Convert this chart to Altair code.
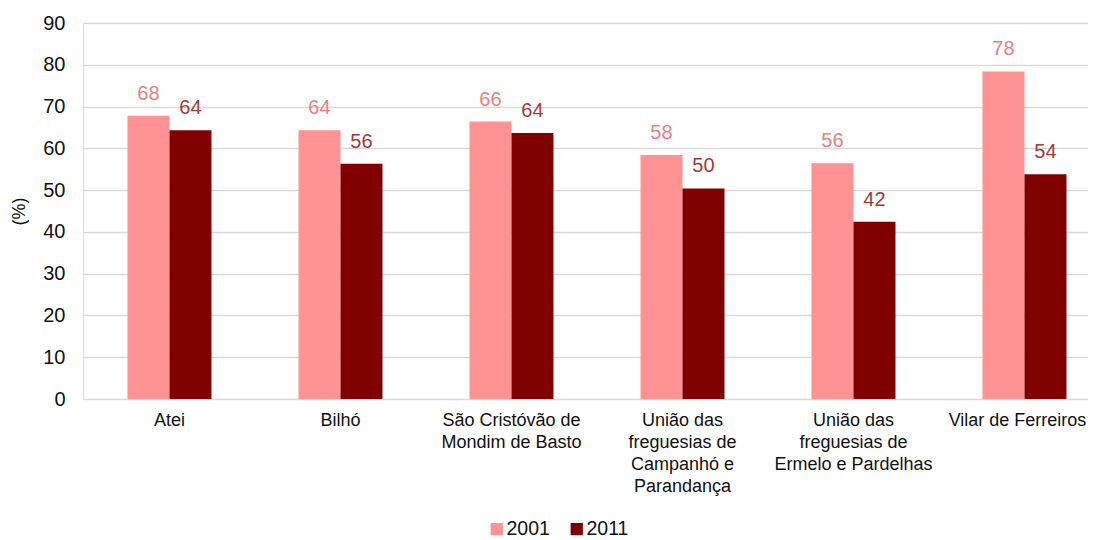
import altair as alt
import pandas as pd

categories = [
    "Atei",
    "Bilhó",
    "São Cristóvão de\nMondim de Basto",
    "União das\nfreguesias de\nCampanhó e\nParandança",
    "União das\nfreguesias de\nErmelo e Pardelhas",
    "Vilar de Ferreiros",
]
years = ["2001", "2011"]
values_2001 = [67.8, 64.3, 66.4, 58.4, 56.4, 78.4]
values_2011 = [64.3, 56.3, 63.7, 50.4, 42.4, 53.8]
y_ticks = [0, 10, 20, 30, 40, 50, 60, 70, 80, 90]

rows = []
for c, a, b in zip(categories, values_2001, values_2011):
    rows.append({"cat": c, "year": "2001", "value": a})
    rows.append({"cat": c, "year": "2011", "value": b})
df = pd.DataFrame(rows)

FONT = "Liberation Sans"

x_enc = alt.X(
    "cat:N",
    sort=categories,
    scale=alt.Scale(paddingInner=0.5088, paddingOuter=0.193, align=0.674),
    axis=alt.Axis(
        title=None,
        labelAngle=0,
        labelExpr="split(datum.value, '\\n')",
        labelFontSize=18,
        labelLineHeight=22,
        labelPadding=12,
        labelColor="#111111",
        labelFont=FONT,
        labelOffset={"expr": "datum.value == 'Vilar de Ferreiros' ? -7 : 0"},
        domain=False,
        ticks=False,
        tickSize=0,
        labelBaseline="top",
    ),
)
xoff = alt.XOffset("year:N", sort=years, scale=alt.Scale(paddingInner=0, paddingOuter=0))
y_enc = alt.Y(
    "value:Q",
    scale=alt.Scale(domain=[0, 90], nice=False),
    axis=alt.Axis(
        values=y_ticks,
        title="(%)",
        titleFontSize=18,
        titleFontWeight="normal",
        titleFont=FONT,
        titleColor="#111111",
        titlePadding=14,
        labelFontSize=20,
        labelFont=FONT,
        labelColor="#111111",
        labelPadding=18,
        grid=True,
        gridColor="#d9d9d9",
        gridWidth=1.3,
        domain=False,
        ticks=False,
        tickSize=0,
    ),
)

bars = alt.Chart(df).mark_bar().encode(
    x=x_enc,
    xOffset=xoff,
    y=y_enc,
    color=alt.Color(
        "year:N",
        sort=years,
        scale=alt.Scale(domain=years, range=["#FF9393", "#800000"]),
        legend=alt.Legend(
            title=None,
            orient="none",
            direction="horizontal",
            legendX=404,
            legendY=496,
            symbolType="square",
            symbolSize=150,
            symbolStrokeWidth=0,
            symbolOpacity=1,
            labelFontSize=19.5,
            labelFont=FONT,
            labelColor="#111111",
            labelOffset=0,
            columnPadding=17,
            padding=0,
        ),
    ),
)

labels = alt.Chart(df).mark_text(
    baseline="alphabetic", dy=-16, fontSize=20, font=FONT
).encode(
    x=alt.X("cat:N", sort=categories),
    xOffset=alt.XOffset("year:N", sort=years),
    y=alt.Y("value:Q"),
    text=alt.Text("value:Q", format=".0f"),
    color=alt.condition(alt.datum.year == "2001", alt.value("#E8817F"), alt.value("#A33A3A")),
)

chart = (
    alt.layer(bars, labels)
    .properties(
        width=1005,
        height=376,
        autosize=alt.AutoSizeParams(type="none"),
        padding={"left": 75, "top": 15, "right": 0, "bottom": 139},
    )
    .configure_view(stroke=None)
    .configure(font=FONT)
)

chart.save("out.html", embed_options={"renderer": "svg", "actions": False})
